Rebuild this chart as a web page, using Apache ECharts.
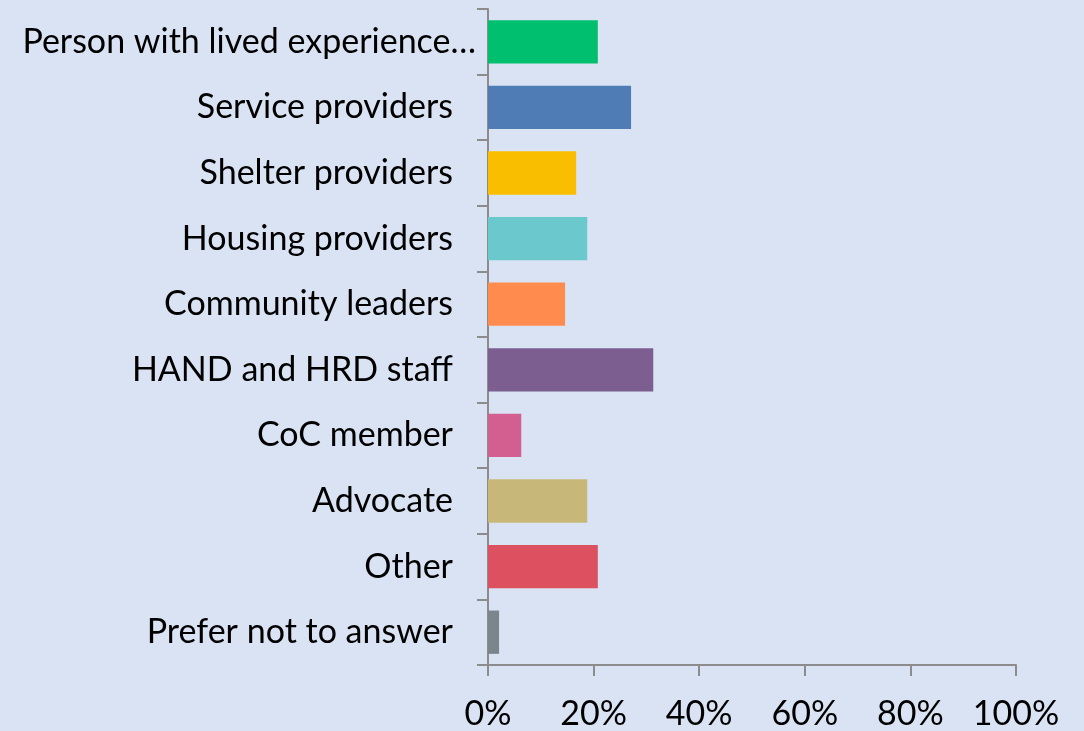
<!DOCTYPE html>
<html>
<head>
<meta charset="utf-8">
<script src="https://cdn.jsdelivr.net/npm/echarts@6/dist/echarts.min.js"></script>
<style>
  html, body { margin: 0; padding: 0; background: #dae3f3; }
  #chart { width: 1084px; height: 731px; }
</style>
</head>
<body>
<div id="chart"></div>
<script>
// categories top to bottom
var categories = [
  "Person with lived experience…",
  "Service providers",
  "Shelter providers",
  "Housing providers",
  "Community leaders",
  "HAND and HRD staff",
  "CoC member",
  "Advocate",
  "Other",
  "Prefer not to answer"
];
var values = [20.8, 27.1, 16.7, 18.8, 14.6, 31.3, 6.3, 18.8, 20.8, 2.1];
var barColors = ["#00bf6f", "#507cb6", "#f9be00", "#6bc8cd", "#ff8b4f",
                 "#7d5e90", "#d25f90", "#c7b879", "#dc5060", "#7b868c"];
var xTicks = [0, 20, 40, 60, 80, 100];

var myChart = echarts.init(document.getElementById("chart"));
var option = {
  backgroundColor: "#dae3f3",
  animation: false,
  grid: {
    left: 488,
    right: 68,
    top: 9,
    bottom: 64
  },
  xAxis: {
    type: "value",
    min: xTicks[0],
    max: xTicks[xTicks.length - 1],
    interval: 20,
    splitLine: { show: false },
    axisLine: { show: true, lineStyle: { color: "#8c8c8c", width: 2 } },
    axisTick: { show: true, length: 11, lineStyle: { color: "#8c8c8c", width: 2 } },
    axisLabel: {
      margin: 32,
      formatter: "{value}%",
      color: "#000",
      fontFamily: "Lato",
      fontSize: 34
    }
  },
  yAxis: {
    type: "category",
    inverse: true,
    data: categories,
    axisLine: { show: true, lineStyle: { color: "#8c8c8c", width: 2 } },
    axisTick: { show: true, length: 11, lineStyle: { color: "#8c8c8c", width: 2 } },
    axisLabel: {
      margin: 35,
      color: "#000",
      fontFamily: "Lato",
      fontSize: 34,
      // the truncated first label sits a little further right in the original
      formatter: function (v, i) {
        return i === 0 ? "{f|" + v + "}" : v;
      },
      rich: {
        f: { fontFamily: "Lato", fontSize: 34, color: "#000", padding: [0, -23, 0, 0] }
      }
    }
  },
  series: [
    {
      type: "bar",
      barCategoryGap: "34%",
      data: values.map(function (v, i) {
        return { value: v, itemStyle: { color: barColors[i] } };
      })
    }
  ]
};
myChart.setOption(option);
</script>
</body>
</html>
